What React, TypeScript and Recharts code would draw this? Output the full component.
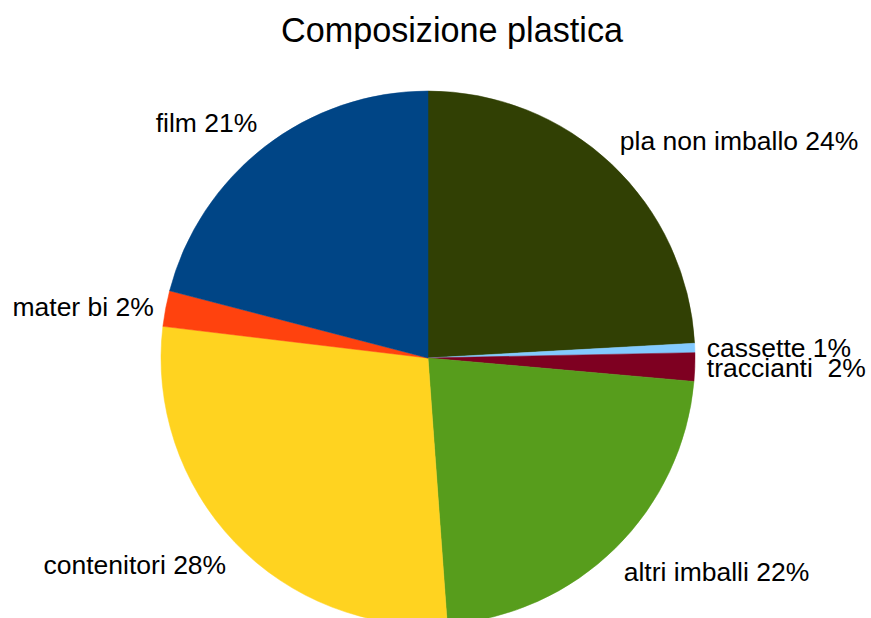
import React from 'react';
import { PieChart, Pie, Cell } from 'recharts';

// quote percentuali (senso orario da ore 12)
const categorie = ['pla non imballo', 'cassette', 'traccianti ', 'altri imballi', 'contenitori', 'mater bi', 'film'];
const valori = [24.12, 0.56, 1.72, 22.45, 28.04, 2.16, 20.95];
const colori = ['#314004', '#83caff', '#7e0021', '#579d1c', '#ffd320', '#ff420e', '#004586'];

const RAD = Math.PI / 180;
const FONT = '"Liberation Sans", Arial, sans-serif';

const dati = categorie.map((nome, i) => ({ nome, valore: valori[i] }));

// etichetta esterna: angolo del riquadro appoggiato al punto appena fuori dal bordo
const renderLabel = (props: any) => {
  const { cx, cy, midAngle, outerRadius, payload } = props;
  const r = outerRadius + 12;
  const cos = Math.cos(-midAngle * RAD);
  const sin = Math.sin(-midAngle * RAD);
  const x = cx + r * cos;
  const y = cy + r * sin;
  const size = 26.5;
  let anchor: 'start' | 'end' | 'middle' = 'middle';
  if (cos > 0.1) anchor = 'start';
  else if (cos < -0.1) anchor = 'end';
  let baseY = y + size * 0.36;
  if (sin < -0.3) baseY = y - size * 0.21;
  else if (sin > 0.3) baseY = y + size * 0.9;
  return (
    <text
      x={x}
      y={baseY}
      textAnchor={anchor}
      fill="#000"
      fontSize={size}
      fontFamily={FONT}
      style={{ whiteSpace: 'pre' }}
    >
      {`${payload.nome} ${Math.round(payload.valore)}%`}
    </text>
  );
};

export default function App() {
  return (
    <div style={{ position: 'absolute', left: 0, top: 0, width: 871, height: 618, background: '#fff', overflow: 'hidden' }}>
      <div
        style={{
          position: 'absolute',
          left: 0,
          top: 13,
          width: 904,
          textAlign: 'center',
          fontFamily: FONT,
          fontSize: 34.2,
          lineHeight: '34px',
          color: '#000',
        }}
      >
        Composizione plastica
      </div>
      <PieChart
        width={871}
        height={618}
        margin={{ top: 0, right: 0, bottom: 0, left: 0 }}
        style={{ position: 'absolute', left: 0, top: 0 }}
      >
        <Pie
          data={dati}
          dataKey="valore"
          nameKey="nome"
          cx={428}
          cy={358}
          outerRadius={267}
          startAngle={90}
          endAngle={-270}
          label={renderLabel}
          labelLine={false}
          isAnimationActive={false}
        >
          {dati.map((d, i) => (
            <Cell key={d.nome} fill={colori[i]} stroke={colori[i]} strokeWidth={0.5} />
          ))}
        </Pie>
      </PieChart>
    </div>
  );
}
